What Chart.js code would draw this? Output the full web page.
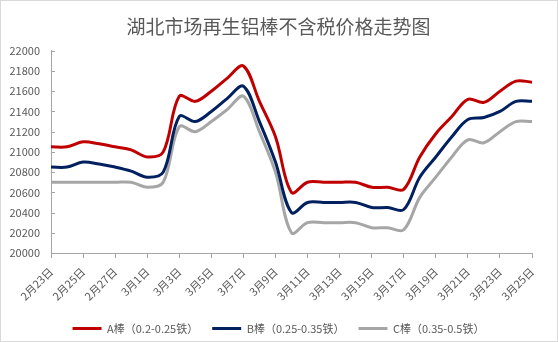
<!DOCTYPE html>
<html>
<head>
<meta charset="utf-8">
<script src="https://cdn.jsdelivr.net/npm/chart.js@4/dist/chart.umd.min.js"></script>
<style>
  body { margin: 0; background: #fff; }
  #wrap { width: 556px; height: 340px; border: 1px solid #d9d9d9; }
</style>
</head>
<body>
<div id="wrap"><canvas id="myChart"></canvas></div>
<script>
// ********* DATA *********
const dates = [
  "2月23日", "2月24日", "2月25日", "2月26日", "2月27日", "2月28日",
  "3月1日", "3月2日", "3月3日", "3月4日", "3月5日", "3月6日", "3月7日",
  "3月8日", "3月9日", "3月10日", "3月11日", "3月12日", "3月13日",
  "3月14日", "3月15日", "3月16日", "3月17日", "3月18日", "3月19日",
  "3月20日", "3月21日", "3月22日", "3月23日", "3月24日", "3月25日"
];

const seriesA = [
  21050, 21050, 21100, 21080, 21050, 21020,
  20950, 21000, 21550, 21500, 21600, 21730, 21850,
  21500, 21150, 20600, 20700, 20700, 20700,
  20700, 20650, 20650, 20630, 20950, 21180,
  21350, 21520, 21490, 21600, 21700, 21690
];

const seriesB = [
  20850, 20850, 20900, 20880, 20850, 20810,
  20750, 20800, 21350, 21300, 21400, 21530, 21650,
  21300, 20900, 20400, 20500, 20500, 20500,
  20500, 20450, 20450, 20430, 20750, 20950,
  21150, 21320, 21340, 21400, 21500, 21500
];

const seriesC = [
  20700, 20700, 20700, 20700, 20700, 20700,
  20650, 20700, 21250, 21200, 21300, 21420, 21550,
  21200, 20800, 20200, 20300, 20300, 20300,
  20300, 20250, 20250, 20230, 20550, 20750,
  20950, 21120, 21090, 21200, 21300, 21300
];

const seriesNames = ["A棒（0.2-0.25铁）", "B棒（0.25-0.35铁）", "C棒（0.35-0.5铁）"];
const yMin = 20000;
const yMax = 22000;
const yStep = 200;

// ********* CHART *********
const textColor = "#595959";
const axisColor = "#a6a6a6";
const fontName = "'Noto Sans CJK SC', 'Noto Sans', sans-serif";

const makeSet = (label, data, color) => ({
  label: label,
  data: data,
  borderColor: color,
  backgroundColor: color,
  borderWidth: 3,
  pointRadius: 0,
  tension: 0.35,
  fill: false,
});

// small tick marks on the inner side of the value axis
const innerTicks = {
  id: "innerTicks",
  afterDraw(chart) {
    const y = chart.scales.y;
    const c = chart.ctx;
    c.save();
    c.strokeStyle = axisColor;
    c.lineWidth = 1;
    y.ticks.forEach((t) => {
      const py = Math.round(y.getPixelForValue(t.value)) + 0.5;
      c.beginPath();
      c.moveTo(y.right, py);
      c.lineTo(y.right + 4, py);
      c.stroke();
    });
    c.restore();
  },
};

const ctx = document.getElementById("myChart");
new Chart(ctx, {
  type: "line",
  data: {
    labels: dates,
    datasets: [
      makeSet(seriesNames[0], seriesA, "#c00000"),
      makeSet(seriesNames[1], seriesB, "#002060"),
      makeSet(seriesNames[2], seriesC, "#a6a6a6"),
    ],
  },
  plugins: [innerTicks],
  options: {
    responsive: true,
    maintainAspectRatio: false,
    animation: false,
    layout: { padding: { top: 7, right: 8, left: 7, bottom: -3 } },
    plugins: {
      title: {
        display: true,
        text: "湖北市场再生铝棒不含税价格走势图",
        color: textColor,
        font: { family: fontName, size: 19, weight: "normal" },
        padding: { top: 7, bottom: 13 },
      },
      legend: {
        position: "bottom",
        labels: {
          color: textColor,
          font: { family: fontName, size: 11 },
          usePointStyle: true,
          pointStyle: "line",
          pointStyleWidth: 29,
          padding: 14,
        },
      },
      tooltip: { enabled: false },
    },
    scales: {
      x: {
        offset: false,
        border: { color: axisColor },
        grid: { drawOnChartArea: false, drawTicks: true, tickLength: 5, color: axisColor },
        afterFit: (scale) => {
          scale.height = 56;
          scale.paddingLeft = 0;
          scale.paddingRight = 25;
        },
        ticks: {
          autoSkip: false,
          maxRotation: 45,
          minRotation: 45,
          color: textColor,
          font: { family: fontName, size: 11 },
          padding: 7,
          callback: function (value, index) {
            return index % 2 == 0 ? this.getLabelForValue(value) : null;
          },
        },
      },
      y: {
        min: yMin,
        max: yMax,
        border: { color: axisColor },
        grid: { drawOnChartArea: false, drawTicks: false },
        afterFit: (scale) => {
          scale.width = 43;
        },
        ticks: {
          stepSize: yStep,
          color: textColor,
          font: { family: fontName, size: 11 },
          padding: 11,
          callback: (value) => String(value),
        },
      },
    },
  },
});
</script>
</body>
</html>
